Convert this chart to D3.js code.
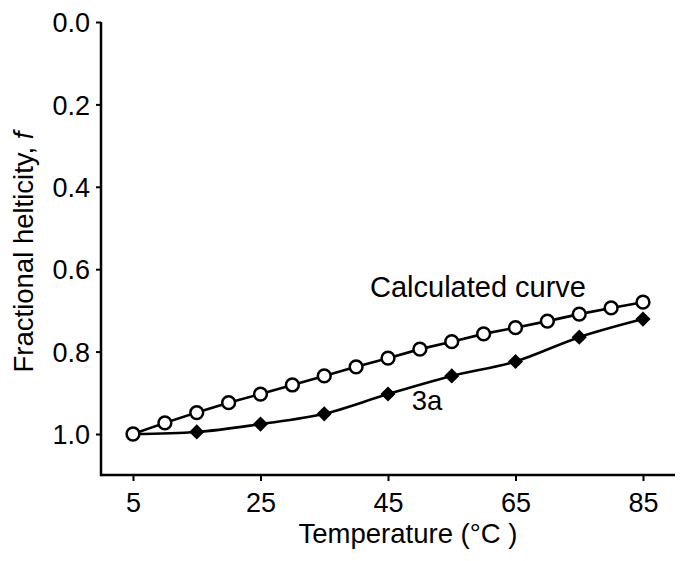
<!DOCTYPE html>
<html><head><meta charset="utf-8">
<script src="https://cdn.jsdelivr.net/npm/d3@7"></script>
<style>body{margin:0;background:#fff}svg{display:block}text{font-family:"Liberation Sans",Arial,sans-serif;fill:#000}</style>
</head><body>
<svg id="c" width="684" height="561"></svg>
<script>
const calcTemps = [5,10,15,20,25,30,35,40,45,50,55,60,65,70,75,80,85];
const calcF = [1.0,0.973,0.948,0.924,0.903,0.881,0.859,0.837,0.816,0.794,0.776,0.757,0.742,0.726,0.709,0.694,0.680];
const expTemps = [5,15,25,35,45,55,65,75,85];
const expF = [1.0,0.995,0.976,0.951,0.903,0.859,0.824,0.765,0.721];
const xTicks = [5,25,45,65,85];
const yTicks = [0.0,0.2,0.4,0.6,0.8,1.0];

const svg = d3.select("#c");
const x = d3.scaleLinear().domain([5,85]).range([133,643]);
const y = d3.scaleLinear().domain([0,1]).range([22,434]);
const axX0 = 101, axY = 475;

// axes
const gx = svg.append("g").attr("transform",`translate(0,${axY})`)
  .call(d3.axisBottom(x).tickValues(xTicks).tickFormat(d3.format("d")).tickSize(6).tickSizeOuter(0));
gx.select(".domain").remove();
gx.append("line").attr("x1",axX0).attr("x2",675).attr("stroke","#000").attr("stroke-width",2.5);
gx.selectAll(".tick line").attr("stroke","#000").attr("stroke-width",2);
gx.selectAll(".tick text").attr("dy",0).attr("y",37).attr("font-size",27).attr("font-family","Liberation Sans, Arial, sans-serif").attr("fill","#000");

const gy = svg.append("g").attr("transform",`translate(${axX0},0)`)
  .call(d3.axisLeft(y).tickValues(yTicks).tickFormat(d3.format(".1f")).tickSize(5).tickSizeOuter(0));
gy.select(".domain").remove();
gy.append("line").attr("y1",22).attr("y2",axY+1.2).attr("stroke","#000").attr("stroke-width",2.5);
gy.selectAll(".tick line").attr("stroke","#000").attr("stroke-width",2);
gy.selectAll(".tick text").attr("x",-11).attr("dy","0.36em").attr("font-size",27).attr("font-family","Liberation Sans, Arial, sans-serif").attr("fill","#000");

// axis titles
svg.append("text").attr("x",408).attr("y",543).attr("text-anchor","middle").attr("font-size",27.5).text("Temperature (°C )");
const yl = svg.append("text").attr("transform","translate(33,252) rotate(-90)").attr("text-anchor","middle").attr("font-size",27.5);
yl.append("tspan").text("Fractional helticity, ");
yl.append("tspan").attr("font-style","italic").text("f");

// lines
const calc = calcTemps.map((t,i)=>({t,f:calcF[i]}));
const exp = expTemps.map((t,i)=>({t,f:expF[i]}));
const lineLin = d3.line().x(d=>x(d.t)).y(d=>y(d.f));
const lineSm = d3.line().x(d=>x(d.t)).y(d=>y(d.f)).curve(d3.curveMonotoneX);
svg.append("path").attr("d",lineSm(exp)).attr("fill","none").attr("stroke","#000").attr("stroke-width",2.6);
svg.append("path").attr("d",lineLin(calc)).attr("fill","none").attr("stroke","#000").attr("stroke-width",2.6);

// markers
svg.selectAll(".dia").data(exp.slice(1)).enter().append("path")
  .attr("d",d3.symbol().type(d3.symbolSquare).size(115)())
  .attr("transform",d=>`translate(${x(d.t)},${y(d.f)}) rotate(45)`).attr("fill","#000");
svg.selectAll(".cir").data(calc).enter().append("circle")
  .attr("cx",d=>x(d.t)).attr("cy",d=>y(d.f)).attr("r",6.4)
  .attr("fill","#fff").attr("stroke","#000").attr("stroke-width",2.5);

// annotations
svg.append("text").attr("x",370).attr("y",297).attr("font-size",29).text("Calculated curve");
svg.append("text").attr("x",427).attr("y",410).attr("text-anchor","middle").attr("font-size",27.5).text("3a");
</script>
</body></html>
